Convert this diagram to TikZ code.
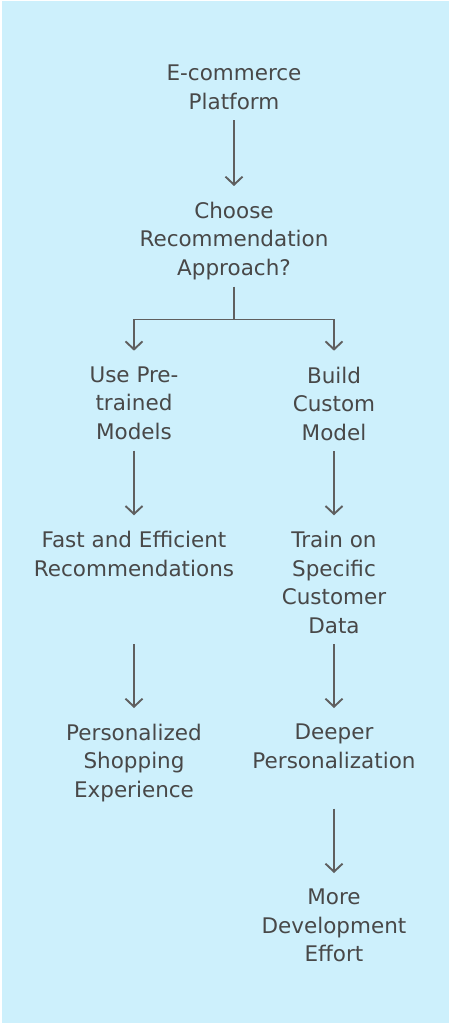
\documentclass[tikz,border=0pt]{standalone}
\usepackage{fontspec}
\setmainfont{DejaVu Sans}
\usepackage{xcolor}
\usepackage{tikz}
\usetikzlibrary{arrows.meta,calc}
\definecolor{skybg}{RGB}{205,240,252}
\definecolor{inkgray}{RGB}{72,72,72}
\definecolor{wiregray}{RGB}{95,95,95}

\begin{document}
\begin{tikzpicture}[x=1pt,y=-1pt,
  txt/.style={anchor=north,align=center,text=inkgray,inner xsep=2pt,inner ysep=11pt,text depth=0pt,font=\fontsize{21.5}{28.4}\selectfont},
  wire/.style={draw=wiregray,line width=1.9pt},
  flow/.style={wire,shorten >=5pt,-{Straight Barb[length=8pt,width=17pt]}}]
% --- canvas ---
\useasboundingbox (0,0) rectangle (450,1024);
\fill[white] (0,0) rectangle (450,1024);
\fill[skybg] (1.5,1.5) rectangle (448.5,1022.5);
% --- trunk ---
\node[txt] (platform) at (234,54) {E-commerce\\Platform};
\node[txt] (choose) at (234,191) {Choose\\Recommendation\\Approach?};
% --- left branch: pre-trained models ---
\node[txt] (pretrained) at (134,355.7) {Use Pre-\\trained\\Models};
\node[txt] (fast) at (134,520.3) {Fast and Efficient\\Recommendations};
\node[txt] (personal) at (134,713) {Personalized\\Shopping\\Experience};
% --- right branch: custom model ---
\node[txt] (custom) at (334,355.7) {Build\\Custom\\Model};
\node[txt] (train) at (334,520.3) {Train on\\Specific\\Customer\\Data};
\node[txt] (deeper) at (334,713) {Deeper\\Personalization};
\node[txt] (effort) at (334,878) {More\\Development\\Effort};
% --- connectors ---
\draw[flow] (platform) -- (choose);
\coordinate (fork) at ($(choose.south)+(0,33)$);
\draw[wire] (choose.south) -- (fork);
\draw[flow] (fork) -| (pretrained.north);
\draw[flow] (fork) -| (custom.north);
\draw[flow] (pretrained) -- (fast);
\draw[flow] (custom) -- (train);
\draw[flow] (fast.south |- train.south) -- (personal);
\draw[flow] (train) -- (deeper);
\draw[flow] (deeper.south |- personal.south) -- (effort);
\end{tikzpicture}
\end{document}
